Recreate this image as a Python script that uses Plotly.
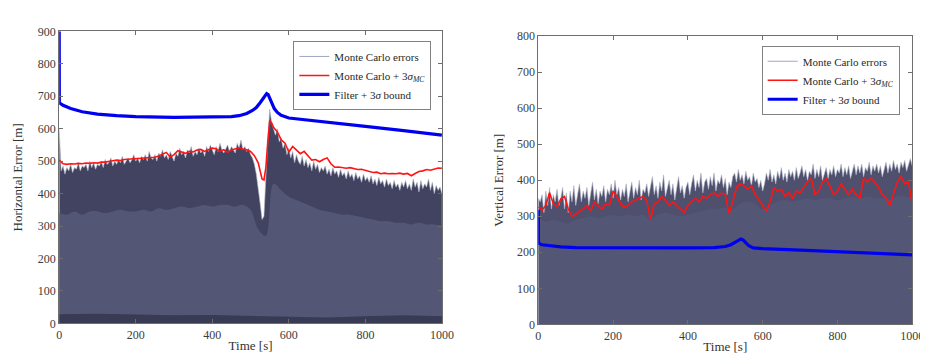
import plotly.graph_objects as go

# ---------------- data ----------------
t5 = list(range(0, 1001, 5))
t20 = list(range(0, 1001, 20))
t100 = list(range(0, 1001, 100))

# Horizontal: Monte Carlo error spike tips (every 5 s)
h_peak = [600, 470, 485, 460, 480, 470, 490, 465, 480, 475, 495, 470, 485, 480, 490, 470, 500, 480, 495, 475, 490,
          485, 500, 480, 505, 490, 495, 510, 485, 500, 490, 505, 495, 515, 490, 500, 510, 495, 505, 520, 500,
          510, 495, 515, 505, 520, 500, 530, 510, 505, 520, 500, 525, 515, 535, 510, 520, 505, 530, 515, 500,
          525, 515, 540, 520, 530, 510, 535, 525, 545, 515, 530, 520, 540, 525, 535, 515, 545, 530, 550, 535,
          520, 545, 530, 555, 535, 525, 540, 550, 530, 545, 535, 525, 555, 540, 565, 535, 545, 530, 540, 520,
          510, 490, 460, 420, 370, 320, 330, 450, 580, 660, 620, 600, 580, 600, 560, 570, 540, 555, 520, 540,
          510, 530, 495, 520, 500, 490, 515, 485, 505, 480, 495, 470, 500, 475, 490, 465, 480, 470, 485, 460,
          475, 455, 480, 460, 470, 450, 475, 455, 465, 445, 470, 450, 460, 440, 465, 445, 455, 435, 460, 440,
          450, 435, 455, 430, 445, 425, 450, 430, 440, 420, 445, 425, 435, 415, 440, 420, 430, 410, 435, 420,
          440, 415, 430, 410, 445, 420, 435, 405, 440, 415, 430, 420, 445, 410, 435, 400, 425, 410, 420, 400]
# Horizontal: top of the solid body of Monte Carlo errors (every 20 s)
h_body = [340, 335, 345, 335, 345, 345, 340, 345, 350, 345, 345, 350, 345, 355, 350, 355, 360, 355, 360, 365,
          360, 365, 365, 360, 365, 350, 290, 270, 430, 410, 390, 380, 370, 360, 350, 345, 340, 335, 335, 330,
          325, 320, 315, 315, 310, 310, 305, 310, 305, 305, 300]
# Horizontal: dark band near zero (every 100 s)
h_floor = [28, 30, 27, 25, 26, 24, 20, 18, 22, 25, 22]

t_red_h = [0, 10, 20, 30, 40, 50, 60, 70, 80, 90, 100, 110, 120, 130, 140, 150, 160, 170, 180, 190,
           200, 210, 220, 230, 240, 250, 260, 270, 280, 290, 300, 310, 320, 330, 340, 350, 360, 370, 380, 390,
           400, 410, 420, 430, 440, 450, 460, 470, 480, 490, 500, 510, 520, 530, 535, 540, 545, 550, 555, 560,
           570, 580, 590, 600, 610, 620, 630, 640, 650, 660, 670, 680, 690, 700, 710, 720, 730, 740, 750, 760,
           770, 780, 790, 800, 810, 820, 830, 840, 850, 860, 870, 880, 890, 900, 910, 920, 930, 940, 950, 960,
           970, 980, 990, 1000]
red_h = [503, 492, 490, 492, 491, 493, 492, 494, 493, 495, 494, 497, 497, 500, 501, 503, 502, 505, 506, 507,
         508, 507, 509, 509, 511, 512, 516, 522, 527, 512, 520, 532, 528, 524, 530, 528, 534, 536, 530, 534,
         540, 538, 530, 535, 527, 534, 538, 541, 537, 535, 530, 517, 495, 445, 442, 480, 560, 625, 618, 604,
         590, 566, 555, 528, 545, 535, 523, 530, 515, 503, 505, 498, 505, 510, 492, 481, 482, 480, 478, 480,
         476, 474, 475, 471, 468, 465, 466, 461, 463, 461, 462, 461, 463, 460, 462, 455, 462, 468, 470, 474,
         472, 476, 479, 478]

t_blue_h = [0, 0.3, 10, 30, 60, 100, 150, 200, 300, 400, 450, 470, 490, 505, 515, 525, 532, 538, 542, 546,
            550, 555, 562, 570, 580, 600, 650, 700, 800, 900, 1000]
blue_h = [900, 680, 672, 662, 652, 645, 640, 637, 635, 635, 637, 640, 647, 656, 665, 680, 693, 703, 708, 705,
          695, 680, 662, 650, 641, 633, 626, 620, 607, 594, 580]

# Vertical: Monte Carlo error spike tips (every 5 s)
v_peak = [350, 340, 360, 310, 370, 330, 380, 320, 360, 340, 375, 330, 350, 380, 320, 365, 310, 370, 340, 385, 330,
          360, 390, 340, 370, 350, 380, 330, 365, 395, 345, 375, 335, 370, 355, 385, 340, 375, 360, 390, 350,
          400, 360, 380, 345, 375, 355, 390, 340, 370, 395, 350, 380, 360, 400, 345, 375, 365, 390, 355, 380,
          410, 360, 385, 350, 395, 370, 415, 355, 380, 400, 360, 390, 345, 375, 410, 365, 385, 350, 380, 395,
          360, 390, 415, 370, 400, 380, 420, 365, 395, 405, 375, 410, 385, 420, 370, 400, 390, 415, 380, 405,
          360, 395, 380, 410, 420, 395, 430, 400, 415, 390, 425, 400, 410, 385, 420, 395, 405, 380, 400, 370,
          390, 420, 400, 430, 395, 415, 390, 425, 405, 435, 400, 420, 395, 430, 410, 425, 400, 435, 405, 420,
          440, 410, 430, 400, 425, 415, 445, 405, 430, 410, 440, 400, 420, 435, 405, 430, 415, 440, 410, 430,
          420, 445, 410, 435, 415, 440, 405, 430, 445, 415, 440, 420, 445, 410, 435, 425, 450, 415, 440, 425,
          445, 420, 440, 410, 435, 450, 420, 445, 425, 455, 430, 445, 420, 450, 435, 455, 425, 445, 460, 440]
v_body = [300, 285, 290, 285, 280, 290, 295, 300, 295, 300, 305, 300, 305, 300, 305, 290, 305, 310, 305, 300,
          305, 310, 315, 320, 320, 325, 320, 335, 340, 335, 320, 330, 340, 345, 340, 345, 350, 345, 350, 350,
          345, 350, 355, 350, 355, 350, 350, 345, 355, 355, 350]

t_red_v = list(range(0, 1001, 10))
red_v = [326, 317, 330, 365, 335, 326, 348, 355, 320, 300, 305, 315, 320, 330, 315, 340, 330, 320, 335, 330,
         370, 355, 335, 325, 330, 340, 345, 350, 355, 345, 290, 335, 340, 355, 345, 330, 340, 330, 320, 310,
         330, 340, 350, 340, 355, 350, 360, 365, 355, 365, 360, 308, 340, 380, 390, 385, 375, 385, 360, 345,
         330, 315, 340, 380, 370, 375, 355, 365, 350, 370, 365, 380, 395, 405, 360, 370, 395, 405, 380, 360,
         370, 390, 375, 360, 375, 360, 350, 405, 395, 405, 395, 380, 360, 350, 330, 365, 395, 410, 390, 395,
         335]

t_blue_v = [0, 0.3, 10, 30, 60, 100, 200, 300, 400, 470, 500, 515, 527, 535, 542, 548, 555, 563, 575, 600,
            700, 800, 900, 1000]
blue_v = [318, 225, 221, 218, 215, 213, 212, 212, 212, 213, 216, 221, 228, 234, 237, 234, 226, 218, 212, 210,
          206, 202, 198, 193]

x_ticks = [0, 200, 400, 600, 800, 1000]
h_ticks = [0, 100, 200, 300, 400, 500, 600, 700, 800, 900]
v_ticks = [0, 100, 200, 300, 400, 500, 600, 700, 800]

# ---------------- styling ----------------
FONT = "Liberation Serif"
BASE = "rgb(84,86,118)"
BAND_H = "rgb(66,67,96)"
BAND_V = "rgb(78,80,110)"
SPIKE = "rgb(180,183,202)"
RED = "rgb(255,20,20)"
BLUE = "rgb(0,0,240)"

fig = go.Figure()

def add_panel(xa, ya, leg, peak, body, red_t, red_y, blue_t, blue_y, band, floor=None):
    fig.add_trace(go.Scatter(x=[None], y=[None], mode="lines", name="Monte Carlo errors",
                             line=dict(color="rgb(160,165,195)", width=1),
                             xaxis=xa, yaxis=ya, legend=leg))
    fig.add_trace(go.Scatter(x=t5, y=peak, mode="lines", fill="tozeroy", fillcolor=band,
                             line=dict(color=SPIKE, width=0.6), showlegend=False,
                             hoverinfo="skip", xaxis=xa, yaxis=ya))
    fig.add_trace(go.Scatter(x=t20, y=body, mode="lines", fill="tozeroy", fillcolor=BASE,
                             line=dict(color=BASE, width=0, shape="spline"), showlegend=False,
                             hoverinfo="skip", xaxis=xa, yaxis=ya))
    if floor is not None:
        fig.add_trace(go.Scatter(x=t100, y=floor, mode="lines", fill="tozeroy",
                                 fillcolor="rgba(30,30,48,0.5)", line=dict(width=0),
                                 showlegend=False, hoverinfo="skip", xaxis=xa, yaxis=ya))
    fig.add_trace(go.Scatter(x=red_t, y=red_y, mode="lines",
                             name="Monte Carlo + 3<i>σ</i><sub><i>MC</i></sub>",
                             line=dict(color=RED, width=1.6), xaxis=xa, yaxis=ya, legend=leg))
    fig.add_trace(go.Scatter(x=blue_t, y=blue_y, mode="lines", name="Filter + 3<i>σ</i> bound",
                             line=dict(color=BLUE, width=3.2),
                             xaxis=xa, yaxis=ya, legend=leg))

add_panel("x", "y", "legend", h_peak, h_body, t_red_h, red_h, t_blue_h, blue_h, BAND_H, h_floor)
add_panel("x2", "y2", "legend2", v_peak, v_body, t_red_v, red_v, t_blue_v, blue_v, BAND_V)

W, H = 928, 356
axis_common = dict(showline=True, linecolor="rgb(110,110,110)", linewidth=1, mirror="ticks",
                   ticks="inside", ticklen=4, tickcolor="rgb(110,110,110)", showgrid=False,
                   zeroline=False, tickfont=dict(family=FONT, size=12, color="rgb(60,60,60)"))
leg_common = dict(xanchor="left", yanchor="top", bgcolor="white", bordercolor="rgb(130,130,130)",
                  borderwidth=1, font=dict(family=FONT, size=11, color="rgb(40,40,40)"),
                  tracegroupgap=0, itemwidth=30)

fig.update_layout(
    width=W, height=H, margin=dict(l=0, r=0, t=0, b=0),
    paper_bgcolor="white", plot_bgcolor="white",
    font=dict(family=FONT, size=12, color="rgb(50,50,50)"),
    xaxis=dict(domain=[49 / W, 438 / W], range=[0, 1000], tickvals=x_ticks,
               title=dict(text="Time [s]", font=dict(size=13), standoff=0), anchor="y", **axis_common),
    yaxis=dict(domain=[1 - 321 / H, 1 - 17 / H], range=[0, 900], tickvals=h_ticks,
               title=dict(text="Horizontal Error [m]", font=dict(size=13), standoff=12), anchor="x", **axis_common),
    xaxis2=dict(domain=[536 / W, 916 / W], range=[0, 1000], tickvals=x_ticks,
                title=dict(text="Time [s]", font=dict(size=13), standoff=0), anchor="y2", **axis_common),
    yaxis2=dict(domain=[1 - 322 / H, 1 - 22 / H], range=[0, 800], tickvals=v_ticks,
                title=dict(text="Vertical Error [m]", font=dict(size=13), standoff=10), anchor="x2", **axis_common),
    legend=dict(x=287 / W, y=1 - 27 / H, **leg_common),
    legend2=dict(x=763 / W, y=1 - 32 / H, **leg_common),
    showlegend=True,
)

fig.write_html("out.html")
